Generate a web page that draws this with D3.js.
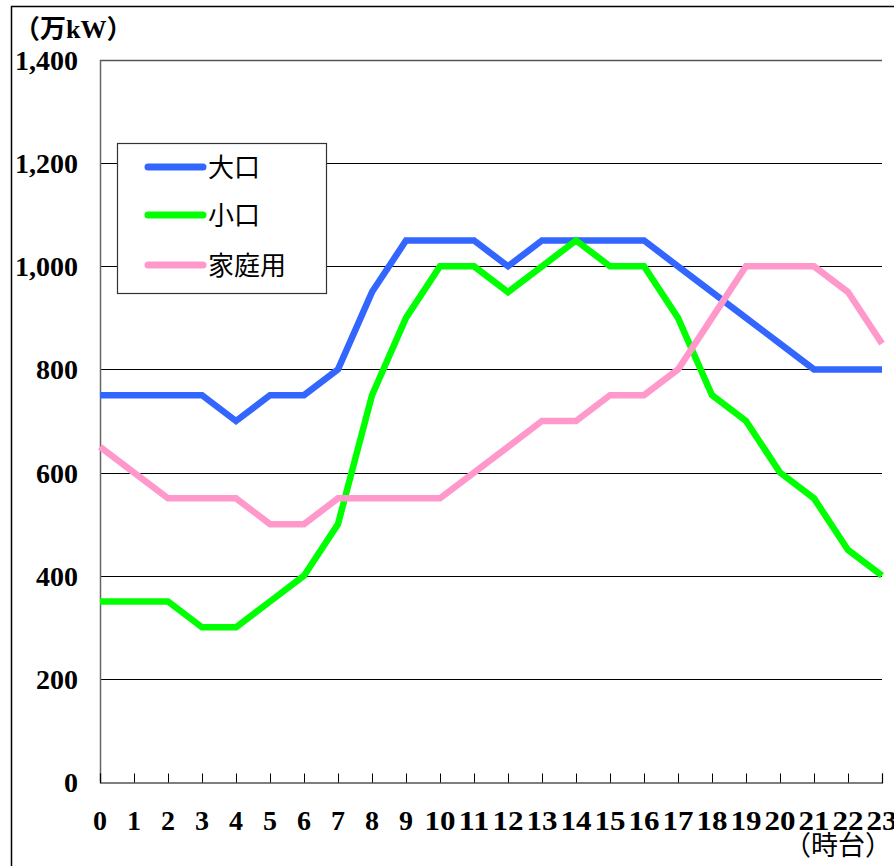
<!DOCTYPE html>
<html><head><meta charset="utf-8">
<script src="https://cdn.jsdelivr.net/npm/d3@7"></script>
<style>html,body{margin:0;padding:0;background:#fff;overflow:hidden}</style>
</head><body>
<svg id="c" width="894" height="866"></svg>
<script>
const hours = d3.range(0, 24);
const hourLabels = hours.map(String);
const yTicks = [0, 200, 400, 600, 800, 1000, 1200, 1400];
const seriesNames = ["大口", "小口", "家庭用"];
const seriesColors = ["#3366FF", "#00FF00", "#FF99CC"];
const oguchi = [750,750,750,750,700,750,750,800,950,1050,1050,1050,1000,1050,1050,1050,1050,1000,950,900,850,800,800,800];
const koguchi = [350,350,350,300,300,350,400,500,750,900,1000,1000,950,1000,1050,1000,1000,900,750,700,600,550,450,400];
const katei = [650,600,550,550,550,500,500,550,550,550,550,600,650,700,700,750,750,800,900,1000,1000,1000,950,850];
const seriesValues = [oguchi, koguchi, katei];

const svg = d3.select("#c");
const L = 100, R = 882, T = 60, B = 782;
const x = d3.scaleLinear().domain([0, 23]).range([L, R]);
const y = d3.scaleLinear().domain([0, 1400]).range([B, T]);

// outer frame
svg.append("rect").attr("x", 11.5).attr("y", 6.5).attr("width", 900).attr("height", 900)
  .attr("fill", "none").attr("stroke", "#000").attr("stroke-width", 1.5);

// gridlines
svg.append("g").selectAll("line").data(yTicks.filter(d => d > 0)).join("line")
  .attr("x1", L).attr("x2", R).attr("y1", d => Math.round(y(d)) + 0.5).attr("y2", d => Math.round(y(d)) + 0.5)
  .attr("stroke", d => d === 1400 ? "#555" : "#000").attr("stroke-width", d => d === 1400 ? 1.5 : 1);

// y axis line
svg.append("line").attr("x1", L + 0.5).attr("x2", L + 0.5).attr("y1", T).attr("y2", B)
  .attr("stroke", "#666").attr("stroke-width", 1.5);

// x axis with inward ticks
const xAxis = svg.append("g").attr("transform", `translate(0,${B + 0.5})`)
  .call(d3.axisBottom(x).tickValues(hours).tickSize(-9).tickFormat(""));
xAxis.select(".domain").attr("stroke", "#000").attr("stroke-width", 1.2);
xAxis.selectAll(".tick line").attr("stroke", "#000");

const tickFont = "'Liberation Serif','DejaVu Serif',serif";
// x labels
svg.append("g").selectAll("text").data(hours).join("text")
  .attr("x", d => x(d)).attr("y", 830)
  .attr("text-anchor", "middle")
  .attr("font-family", tickFont).attr("font-weight", "bold").attr("font-size", 28)
  .attr("textLength", d => hourLabels[d].length > 1 ? 31 : null)
  .attr("lengthAdjust", "spacingAndGlyphs")
  .text(d => hourLabels[d]);

// y labels
svg.append("g").selectAll("text").data(yTicks).join("text")
  .attr("x", 78).attr("y", d => y(d) + 10)
  .attr("text-anchor", "end")
  .attr("font-family", tickFont).attr("font-weight", "bold").attr("font-size", 28)
  .text(d => d3.format(",")(d));

// unit labels
svg.append("text").attr("x", 14).attr("y", 38)
  .attr("font-family", "'Liberation Serif','Noto Sans CJK JP',serif").attr("font-weight", "bold").attr("font-size", 26)
  .text("（万kW）");
svg.append("text").attr("x", 892).attr("y", 855)
  .attr("text-anchor", "end")
  .attr("font-family", "'Noto Sans CJK JP',sans-serif").attr("font-size", 27)
  .text("（時台）");

// lines
const line = d3.line().x((d, i) => x(i)).y(d => y(d));
svg.append("g").selectAll("path").data(seriesValues).join("path")
  .attr("d", d => line(d))
  .attr("fill", "none")
  .attr("stroke", (d, i) => seriesColors[i])
  .attr("stroke-width", 6.5)
  .attr("stroke-linejoin", "miter");

// legend
const lg = svg.append("g");
lg.append("rect").attr("x", 117.5).attr("y", 143.5).attr("width", 209).attr("height", 150)
  .attr("fill", "#fff").attr("stroke", "#333").attr("stroke-width", 1.2);
const ly = [167, 215, 265];
seriesNames.forEach((n, i) => {
  lg.append("line").attr("x1", 148).attr("x2", 203).attr("y1", ly[i]).attr("y2", ly[i])
    .attr("stroke", seriesColors[i]).attr("stroke-width", 7).attr("stroke-linecap", "round");
  lg.append("text").attr("x", 208).attr("y", ly[i] + 10)
    .attr("font-family", "'Noto Sans CJK JP',sans-serif").attr("font-size", 26)
    .text(n);
});
</script>
</body></html>
